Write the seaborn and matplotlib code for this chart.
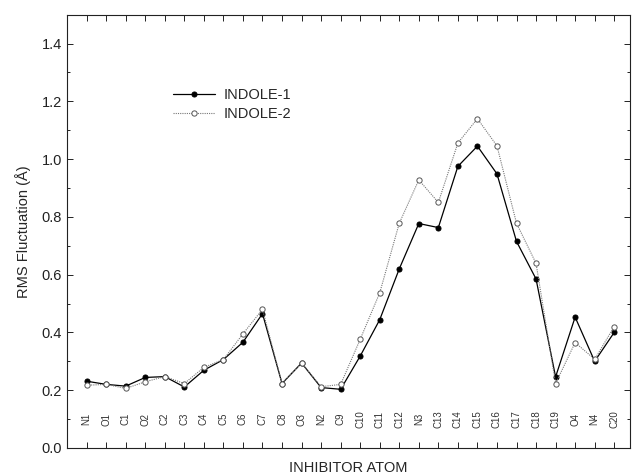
import numpy as np
import pandas as pd
import matplotlib
matplotlib.use("Agg")
import matplotlib.pyplot as plt
from matplotlib.ticker import MultipleLocator
import seaborn as sns

atoms = ["N1", "O1", "C1", "O2", "C2", "C3", "C4", "C5", "C6", "C7",
         "C8", "O3", "N2", "C9", "C10", "C11", "C12", "N3", "C13", "C14",
         "C15", "C16", "C17", "C18", "C19", "O4", "N4", "C20"]
indole1 = [0.231, 0.220, 0.214, 0.244, 0.247, 0.211, 0.269, 0.306, 0.366, 0.465,
           0.223, 0.294, 0.209, 0.203, 0.318, 0.444, 0.620, 0.777, 0.763, 0.975,
           1.045, 0.949, 0.715, 0.585, 0.246, 0.453, 0.300, 0.400]
indole2 = [0.217, 0.220, 0.206, 0.229, 0.247, 0.223, 0.279, 0.306, 0.395, 0.480,
           0.223, 0.294, 0.212, 0.220, 0.376, 0.537, 0.778, 0.928, 0.850, 1.056,
           1.140, 1.046, 0.778, 0.639, 0.223, 0.365, 0.307, 0.420]

df = pd.DataFrame({"pos": np.arange(len(atoms)), "atom": atoms,
                   "INDOLE-1": indole1, "INDOLE-2": indole2})

sns.set_style("ticks")
plt.rcParams["font.family"] = ["Liberation Sans", "DejaVu Sans"]

fig = plt.figure(figsize=(6.33, 4.75), dpi=100)
ax = fig.add_axes([0.106, 0.057, 0.889, 0.912])

sns.lineplot(x="pos", y="INDOLE-1", data=df, ax=ax, color="black", lw=0.9,
             marker="o", markersize=3.6, markerfacecolor="black",
             markeredgecolor="black", label="INDOLE-1")
sns.lineplot(x="pos", y="INDOLE-2", data=df, ax=ax, color="#777777", lw=0.8,
             linestyle=(0, (1, 1)), marker="o", markersize=3.8,
             markerfacecolor="white", markeredgecolor="#555555",
             markeredgewidth=0.7, label="INDOLE-2")

# atom names written inside the plot, rotated
for i, a in enumerate(atoms):
    ax.text(i, 0.1, a, rotation=90, ha="center", va="center",
            fontsize=7, color="#333333")

ax.set_xlim(-1, 27.8)
ax.set_ylim(0, 1.5)
ax.set_xticks(df["pos"])
ax.set_xticklabels([])
ax.yaxis.set_major_locator(MultipleLocator(0.2))
ax.yaxis.set_minor_locator(MultipleLocator(0.1))
ax.yaxis.set_major_formatter(matplotlib.ticker.FormatStrFormatter("%.1f"))
ax.tick_params(axis="both", which="both", direction="in", length=4,
               width=0.7, labelsize=10.5, colors="#222222")
ax.tick_params(axis="y", which="minor", length=2.5)
ax.tick_params(top=True, right=True, which="both", direction="in")
for s in ax.spines.values():
    s.set_linewidth(0.8)
    s.set_color("#222222")

ax.set_xlabel("INHIBITOR ATOM", fontsize=10.5, labelpad=6)
ax.set_ylabel("RMS Fluctuation (Å)", fontsize=10.5, labelpad=8)

ax.legend(loc="upper left", bbox_to_anchor=(0.165, 0.86), frameon=False,
          fontsize=10.5, handlelength=2.9, handletextpad=0.6,
          labelspacing=0.3)

fig.savefig("out.png", dpi=100)
